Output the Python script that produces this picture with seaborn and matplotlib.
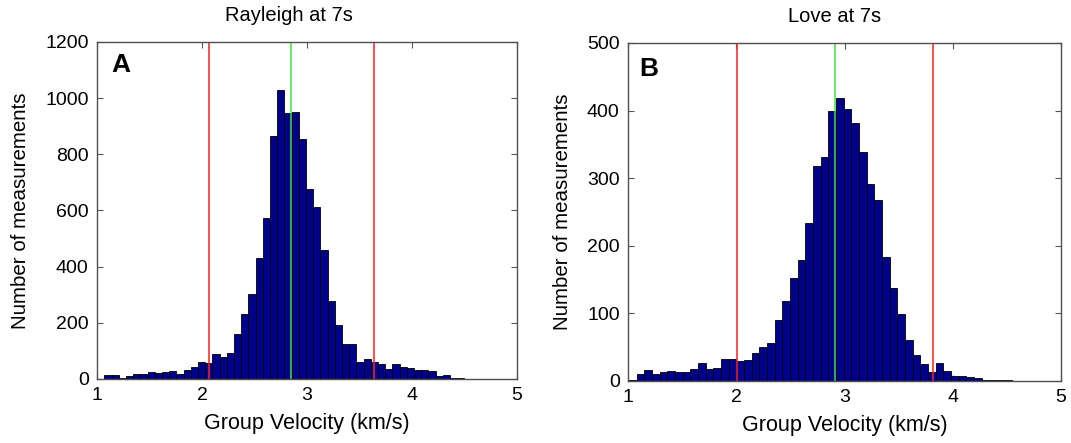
import numpy as np
import pandas as pd
import matplotlib
matplotlib.use("Agg")
import matplotlib.pyplot as plt
import seaborn as sns

# Rayleigh at 7s: 50 bins from 1.07 to 4.50 km/s
rayleigh_lo, rayleigh_hi = 1.07, 4.50
rayleigh_counts = [14, 14, 5, 9, 19, 19, 25, 20, 25, 28,
                   19, 33, 43, 60, 57, 89, 79, 94, 160, 232,
                   301, 430, 575, 867, 1029, 946, 951, 855, 678, 612,
                   460, 278, 191, 126, 126, 60, 70, 62, 52, 37,
                   52, 44, 38, 33, 33, 28, 9, 14, 5, 5]
rayleigh_lines = [2.063, 3.638]
rayleigh_mean = 2.844

# Love at 7s: 50 bins from 1.01 to 4.55 km/s
love_lo, love_hi = 1.01, 4.55
love_counts = [2, 10, 16, 11, 13, 15, 13, 14, 18, 26,
               18, 19, 33, 33, 29, 31, 41, 50, 56, 90,
               119, 153, 179, 234, 318, 331, 400, 419, 402, 381,
               338, 292, 267, 183, 137, 99, 60, 39, 25, 14,
               27, 15, 7, 7, 6, 4, 2, 1.5, 2, 2]
love_lines = [2.003, 3.818]
love_mean = 2.914

sns.set_style("ticks")
plt.rcParams['font.family'] = ['Liberation Sans', 'DejaVu Sans']
plt.rcParams['xtick.direction'] = 'in'
plt.rcParams['ytick.direction'] = 'in'
plt.rcParams['text.color'] = 'black'
plt.rcParams['axes.labelcolor'] = 'black'
plt.rcParams['xtick.labelcolor'] = 'black'
plt.rcParams['ytick.labelcolor'] = 'black'

fig = plt.figure(figsize=(10.71, 4.43), dpi=100)
ax1 = fig.add_axes([0.0906, 0.1445, 0.3921, 0.7607])
ax2 = fig.add_axes([0.5864, 0.140, 0.4043, 0.763])


def draw_panel(ax, lo, hi, counts, lines, mean, ymax, ystep, title, letter, tx, lpos):
    width = (hi - lo) / len(counts)
    centers = lo + width * (np.arange(len(counts)) + 0.5)
    df = pd.DataFrame({'vel': centers, 'n': counts})
    sns.histplot(data=df, x='vel', weights='n', bins=len(counts), binrange=(lo, hi),
                 ax=ax, color='#00008a', alpha=1, edgecolor='black', linewidth=0.6)
    for v in lines:
        ax.axvline(v, color='#ff2020', lw=1.1)
    ax.axvline(mean, color='#40e040', lw=1.1)
    ax.set_xlim(1, 5)
    ax.set_ylim(0, ymax)
    ax.set_xticks([1, 2, 3, 4, 5])
    ax.set_yticks(np.arange(0, ymax + 1, ystep))
    ax.tick_params(axis='both', labelsize=14, length=4, width=0.8,
                   top=True, right=True, color='#555555', pad=6)
    for s in ax.spines.values():
        s.set_visible(True)
        s.set_color('#505050')
        s.set_linewidth(1.0)
    ax.set_xlabel('Group Velocity (km/s)', fontsize=15.5, labelpad=6)
    ax.set_ylabel('Number of measurements', fontsize=14.8, labelpad=11)
    ax.set_title(title, fontsize=14.5, x=tx, pad=15)
    ax.text(lpos[0], lpos[1], letter, transform=ax.transAxes, fontsize=19,
            fontweight='bold', va='top', ha='left')


draw_panel(ax1, rayleigh_lo, rayleigh_hi, rayleigh_counts, rayleigh_lines,
           rayleigh_mean, 1200, 200, 'Rayleigh at 7s', 'A', 0.457, (0.035, 0.966))
draw_panel(ax2, love_lo, love_hi, love_counts, love_lines,
           love_mean, 500, 100, 'Love at 7s', 'B', 0.476, (0.027, 0.958))

fig.savefig('out.png', dpi=100)
